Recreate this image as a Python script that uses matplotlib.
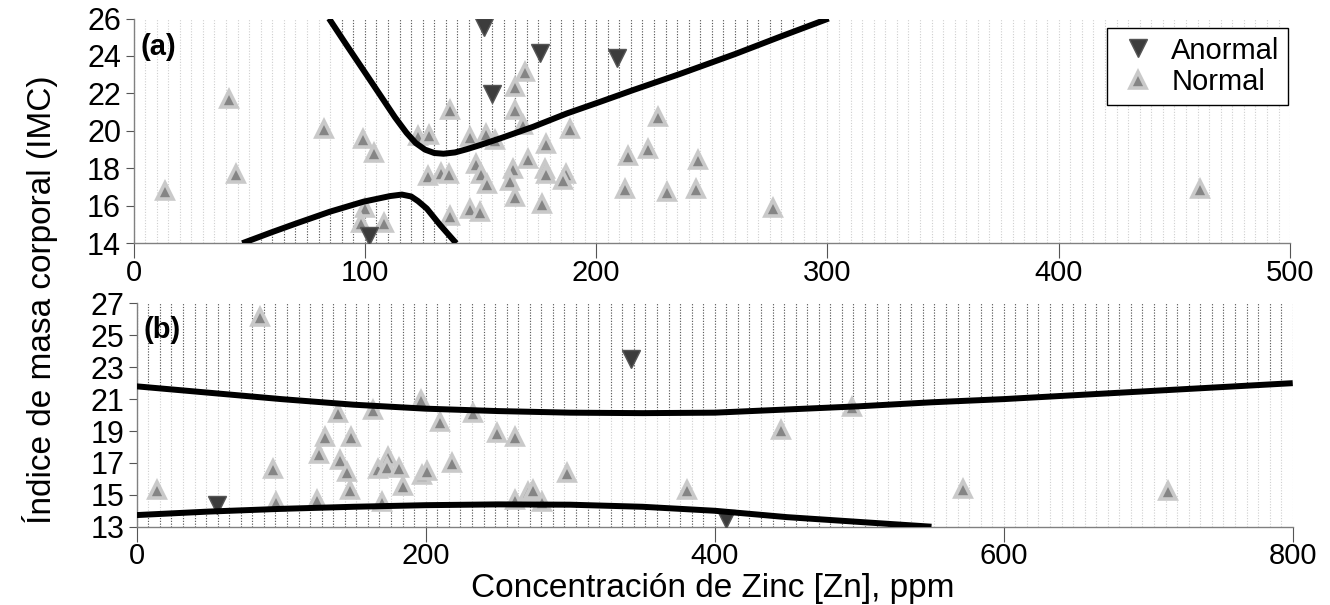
import numpy as np
import matplotlib
matplotlib.use("Agg")
import matplotlib.pyplot as plt
from matplotlib.patches import Polygon
from matplotlib.lines import Line2D

plt.rcParams["font.family"] = ["Liberation Sans", "DejaVu Sans"]

# ---- panel (a) data ----
a_norm_x = [13.4, 41.2, 44.5, 82.4, 99, 104, 100.2, 98.3, 108.4,
            122.9, 127.9, 136.6, 127.2, 133, 136.3, 136.6, 145.3, 152.5, 156.1,
            148.2, 150.3, 152.8, 145.6, 149.9, 169.1, 164.8, 164.8, 168.4, 170.5,
            164, 162.6, 164.8, 177.8, 178.5, 178.2, 176.4, 186.9, 185.8, 188.6,
            213.9, 222.4, 226.9, 212.5, 230.6, 244, 243, 276.3, 461]
a_norm_y = [16.8, 21.68, 17.7, 20.1, 19.57, 18.82, 15.9, 15.07, 15.1,
            19.72, 19.79, 21.09, 17.57, 17.73, 17.7, 15.43, 19.66, 19.84, 19.5,
            18.23, 17.7, 17.16, 15.82, 15.68, 23.14, 22.34, 21.09, 20.29, 18.5,
            17.97, 17.34, 16.45, 17.97, 17.7, 19.3, 16.09, 17.7, 17.4, 20.1,
            18.68, 19.04, 20.73, 16.89, 16.72, 18.47, 16.9, 15.87, 16.9]
a_anom_x = [151.5, 154.9, 175.9, 208.9, 101.9]
a_anom_y = [25.55, 21.98, 24.16, 23.9, 14.4]

a_up_x = [84.5, 92, 100, 107, 113, 118, 122, 126, 130, 134, 139, 144, 150,
          158.5, 172.8, 187.3, 201.7, 216, 236, 260, 280, 300.5]
a_up_y = [26.0, 24.6, 23.13, 21.84, 20.73, 19.9, 19.35, 19.0, 18.82, 18.78, 18.85, 19.02, 19.25,
          19.6, 20.22, 20.93, 21.55, 22.18, 23.03, 24.1, 25.05, 26.0]
a_lo_x = [47, 60, 70.6, 85, 99.4, 110.9, 116, 120, 123, 126.8, 132.5, 139.5]
a_lo_y = [14.0, 14.6, 15.07, 15.69, 16.22, 16.52, 16.6, 16.5, 16.25, 15.85, 14.98, 14.0]

# ---- panel (b) data ----
b_norm_x = [85.3, 13.8, 94.1, 96.4, 124.6, 126.4, 130.3, 139.5, 140.7, 145.8,
            148.1, 147.6, 163.7, 167.2, 174.1, 173.4, 181.7, 184.5, 170, 196.5,
            197.2, 200.7, 209.9, 218, 232.9, 249.1, 261.8, 261.8, 270.8, 274.5,
            280.3, 297.6, 380.6, 445.9, 495.2, 571.6, 713.5]
b_norm_y = [26.13, 15.3, 16.6, 14.57, 14.67, 17.56, 18.64, 20.15, 17.18, 16.45,
            18.64, 15.3, 20.3, 16.6, 17.39, 16.72, 16.66, 15.55, 14.57, 20.94,
            16.24, 16.51, 19.58, 16.97, 20.1, 18.9, 18.64, 14.67, 15.2, 15.3,
            14.57, 16.39, 15.3, 19.06, 20.52, 15.34, 15.24]
b_anom_x = [55.8, 341.9, 407.6]
b_anom_y = [14.36, 23.49, 13.46]

b_up_x = [0, 50, 100, 150, 200, 250, 300, 350, 400, 450, 500, 550, 600, 650, 700, 750, 800]
b_up_y = [21.8, 21.4, 21.0, 20.65, 20.4, 20.25, 20.15, 20.12, 20.15, 20.35, 20.55,
          20.8, 21.0, 21.25, 21.5, 21.75, 22.0]
b_lo_x = [0, 50, 100, 150, 200, 250, 300, 350, 400, 450, 500, 550]
b_lo_y = [13.73, 13.95, 14.12, 14.25, 14.35, 14.4, 14.38, 14.25, 14.0, 13.6, 13.3, 13.0]

norm_style = dict(marker="^", linestyle="none", ms=12, mfc="#858585", mec="#c9c9c9", mew=2.6)
anom_style = dict(marker="v", linestyle="none", ms=13, mfc="#3c3c3c", mec="#555555", mew=1.0)


def grid_lines(ax, xs, ylo, yhi, regions):
    ax.vlines(xs, ylo, yhi, colors="#cfcfcf", linestyles=(0, (1, 1.5)), linewidth=0.8, zorder=0)
    for verts in regions:
        poly = Polygon(verts, closed=True, transform=ax.transData,
                       facecolor="none", edgecolor="none")
        ax.add_patch(poly)
        lc = ax.vlines(xs, ylo, yhi, colors="#5a5a5a", linestyles=(0, (1, 1.5)),
                       linewidth=0.8, zorder=0.5)
        lc.set_clip_path(poly)


def style_axes(ax):
    for s in ["top", "right"]:
        ax.spines[s].set_visible(False)
    for s in ["left", "bottom"]:
        ax.spines[s].set_color("#808080")
        ax.spines[s].set_linewidth(1.0)
    ax.tick_params(axis="y", direction="out", length=6, color="#555555", labelsize=22, pad=3)
    ax.tick_params(axis="x", direction="out", length=11, color="#555555", labelsize=21, pad=0)


fig = plt.figure(figsize=(13.3, 6.05), dpi=100)
ax1 = fig.add_axes([0.1004, 0.5979, 0.8696, 0.3715])
ax2 = fig.add_axes([0.1028, 0.1294, 0.8692, 0.3691])

# panel (a)
up_a = list(zip(a_up_x, a_up_y)) + [(300.5, 27), (84.5, 27)]
lo_a = list(zip(a_lo_x, a_lo_y)) + [(139.5, 13), (47, 13)]
grid_lines(ax1, np.arange(0, 501, 5), 14, 26, [up_a, lo_a])
ax1.plot(a_norm_x, a_norm_y, zorder=2, **norm_style)
ax1.plot(a_anom_x, a_anom_y, zorder=3, **anom_style)
ax1.plot(a_up_x, a_up_y, color="black", lw=4.3, zorder=4, solid_capstyle="butt")
ax1.plot(a_lo_x, a_lo_y, color="black", lw=4.3, zorder=4, solid_capstyle="butt")
ax1.set_xlim(0, 500)
ax1.set_ylim(14, 26)
ax1.set_xticks([0, 100, 200, 300, 400, 500])
ax1.set_yticks([14, 16, 18, 20, 22, 24, 26])
style_axes(ax1)
ax1.text(0.006, 0.875, "(a)", transform=ax1.transAxes, fontsize=21,
         fontweight="bold", va="center", ha="left")
handles = [Line2D([], [], **anom_style), Line2D([], [], **norm_style)]
leg = ax1.legend(handles, ["Anormal", "Normal"], loc="upper right",
                 bbox_to_anchor=(0.9985, 0.958), borderaxespad=0, fontsize=21,
                 fancybox=False, edgecolor="black", framealpha=1, handlelength=1.5,
                 handletextpad=0.4, borderpad=0.3, labelspacing=0.12)
leg.get_frame().set_linewidth(1.0)

# panel (b)
up_b = list(zip(b_up_x, b_up_y)) + [(800, 28), (0, 28)]
lo_b = list(zip(b_lo_x, b_lo_y)) + [(550, 12), (0, 12)]
grid_lines(ax2, np.arange(0, 801, 8), 13, 27, [up_b, lo_b])
ax2.plot(b_norm_x, b_norm_y, zorder=2, **norm_style)
ax2.plot(b_anom_x, b_anom_y, zorder=3, **anom_style)
ax2.plot(b_up_x, b_up_y, color="black", lw=4.3, zorder=4, solid_capstyle="butt")
ax2.plot(b_lo_x, b_lo_y, color="black", lw=4.3, zorder=4, solid_capstyle="butt")
ax2.set_xlim(0, 800)
ax2.set_ylim(13, 27)
ax2.set_xticks([0, 200, 400, 600, 800])
ax2.set_yticks([13, 15, 17, 19, 21, 23, 25, 27])
style_axes(ax2)
ax2.text(0.006, 0.88, "(b)", transform=ax2.transAxes, fontsize=21,
         fontweight="bold", va="center", ha="left")

fig.text(0.030, 0.504, "Índice de masa corporal (IMC)", rotation=90,
         va="center", ha="center", fontsize=24)
fig.text(0.536, 0.013, "Concentración de Zinc [Zn], ppm", va="baseline",
         ha="center", fontsize=24)

fig.savefig("out.png", dpi=100)
